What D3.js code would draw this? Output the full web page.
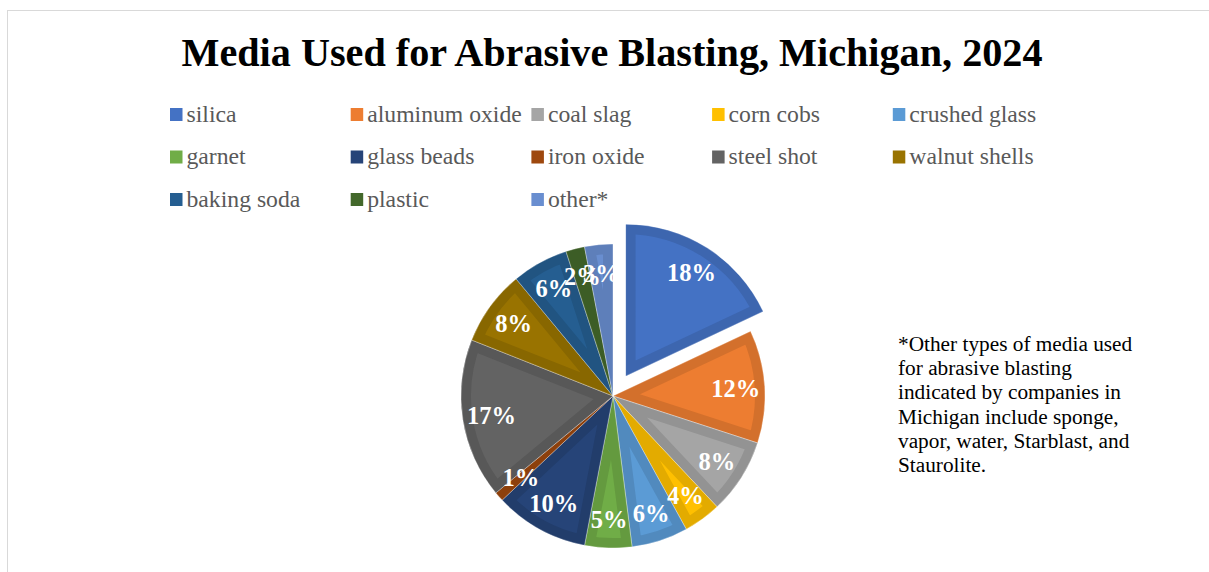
<!DOCTYPE html>
<html>
<head>
<meta charset="utf-8">
<script src="https://cdn.jsdelivr.net/npm/d3@7"></script>
<style>
  html, body { margin: 0; padding: 0; background: #fff; }
  svg { display: block; }
</style>
</head>
<body>
<svg id="chart" width="1209" height="572"></svg>
<script>
const title = "Media Used for Abrasive Blasting, Michigan, 2024";
const categories = ["silica", "aluminum oxide", "coal slag", "corn cobs", "crushed glass",
  "garnet", "glass beads", "iron oxide", "steel shot", "walnut shells",
  "baking soda", "plastic", "other*"];
const shares = [18, 12, 8, 4, 6, 5, 10, 1, 17, 8, 6, 2, 3];
const colors = ["#4472C4", "#ED7D31", "#A5A5A5", "#FFC000", "#5B9BD5", "#70AD47",
  "#264478", "#9E480E", "#636363", "#997300", "#255E91", "#43682B", "#698ED0"];
const explodedCategory = "silica";
const footnoteLines = [
  "*Other types of media used",
  "for abrasive blasting",
  "indicated by companies in",
  "Michigan include sponge,",
  "vapor, water, Starblast, and",
  "Staurolite."
];

const svg = d3.select("#chart");
const serif = "'Liberation Serif', 'Times New Roman', Times, serif";

// frame
svg.append("rect")
  .attr("x", 7.5).attr("y", 10.5).attr("width", 1400).attr("height", 800)
  .attr("fill", "none").attr("stroke", "#d9d9d9").attr("stroke-width", 1);

// title
svg.append("text")
  .attr("x", 612).attr("y", 66)
  .attr("text-anchor", "middle")
  .attr("font-family", serif).attr("font-weight", "bold").attr("font-size", 40.2)
  .attr("fill", "#000")
  .text(title);

// legend
const colX = d3.scaleLinear().domain([0, 1]).range([170, 350.7]);
const rowY = d3.scaleLinear().domain([0, 1]).range([108, 150.5]);
const legend = svg.append("g");
categories.forEach((c, i) => {
  const col = i % 5, row = Math.floor(i / 5);
  const g = legend.append("g").attr("transform", `translate(${colX(col)},${rowY(row)})`);
  g.append("rect").attr("width", 12.5).attr("height", 13).attr("fill", colors[i]);
  g.append("text")
    .attr("x", 16.5).attr("y", 13.5)
    .attr("font-family", serif).attr("font-size", 23.7)
    .attr("fill", "#595959")
    .text(c);
});

// pie
const cx = 613, cy = 396, R = 152, explode = 23.5, labelR = 123;
const color = d3.scaleOrdinal().domain(categories).range(colors);
const data = categories.map((c, i) => ({ name: c, value: shares[i] }));
const pie = d3.pie().sort(null).value(d => d.value);
const arcs = pie(data);
const arc = d3.arc().innerRadius(0).outerRadius(R);
const labelArc = d3.arc().innerRadius(labelR).outerRadius(labelR);

const defs = svg.append("defs");
const pieG = svg.append("g").attr("transform", `translate(${cx},${cy})`);
const sliceG = pieG.append("g");
const labelG = pieG.append("g");

function offset(a) {
  const mid = (a.startAngle + a.endAngle) / 2;
  const off = a.data.name === explodedCategory ? explode : 0;
  return [Math.sin(mid) * off, -Math.cos(mid) * off];
}

arcs.forEach((a, i) => {
  const [dx, dy] = offset(a);
  const g = sliceG.append("g").attr("transform", `translate(${dx},${dy})`);
  const id = "clip" + i;
  defs.append("clipPath").attr("id", id).append("path").attr("d", arc(a));
  const base = color(a.data.name);
  g.append("path")
    .attr("d", arc(a))
    .attr("fill", base)
    .attr("stroke", d3.color(base).darker(0.32))
    .attr("stroke-width", 20)
    .attr("stroke-linejoin", "miter")
    .attr("clip-path", `url(#${id})`);
  g.append("path")
    .attr("d", arc(a))
    .attr("fill", "none")
    .attr("stroke", "#ffffff")
    .attr("stroke-opacity", 0.45)
    .attr("stroke-width", 0.8);
});

arcs.forEach((a) => {
  const [dx, dy] = offset(a);
  const [lx, ly] = labelArc.centroid(a);
  labelG.append("text")
    .attr("x", lx + dx).attr("y", ly + dy).attr("dy", "0.35em")
    .attr("text-anchor", "middle")
    .attr("font-family", serif).attr("font-weight", "bold").attr("font-size", 24.5)
    .attr("fill", "#fff")
    .text(a.data.value + "%");
});

// footnote
const foot = svg.append("text")
  .attr("font-family", serif).attr("font-size", 21.3).attr("fill", "#000");
footnoteLines.forEach((t, i) => {
  foot.append("tspan").attr("x", 898).attr("y", 351 + i * 24.2).text(t);
});
</script>
</body>
</html>
